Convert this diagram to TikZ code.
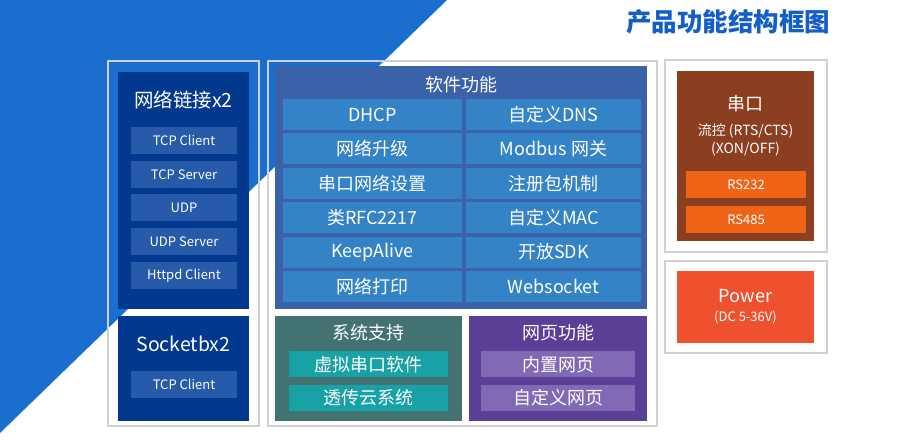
\documentclass[tikz,border=0pt]{standalone}
\usepackage{fontspec}
\setmainfont{Noto Sans CJK SC}
\definecolor{bgblue}{RGB}{26,111,206}
\definecolor{titleblue}{RGB}{20,94,200}
\definecolor{framegray}{RGB}{208,208,210}
\definecolor{netdark}{RGB}{3,56,143}
\definecolor{netitem}{RGB}{40,90,170}
\definecolor{softbg}{RGB}{59,98,169}
\definecolor{softcell}{RGB}{52,131,199}
\definecolor{sysbg}{RGB}{67,114,114}
\definecolor{sysitem}{RGB}{24,162,166}
\definecolor{webbg}{RGB}{91,63,151}
\definecolor{webitem}{RGB}{128,106,181}
\definecolor{uartbg}{RGB}{139,62,32}
\definecolor{uartitem}{RGB}{240,100,24}
\definecolor{powerbg}{RGB}{239,80,46}
\tikzset{
  frame/.style={draw=framegray, line width=1.8pt, inner sep=0pt, outer sep=0pt},
  panel/.style={inner sep=0pt, outer sep=0pt},
  huge/.style={text=white, font=\fontsize{19.5}{21}\selectfont},
  big/.style={text=white, font=\fontsize{18}{20}\selectfont},
  small/.style={text=white, font=\fontsize{13}{15}\selectfont},
  mid/.style={text=white, font=\fontsize{14}{16}\selectfont},
}
\begin{document}
\begin{tikzpicture}[x=1pt,y=-1pt]
	\useasboundingbox (0,0) rectangle (900,446);
	\fill[bgblue] (0,0) -- (447,0) -- (0,433) -- cycle;
	\node[text=titleblue, font=\fontsize{25.5}{27}\selectfont\bfseries] (title) at (728,22) {产品功能结构框图};

	% left column
	\node[frame, minimum width=151, minimum height=365] (leftframe) at (183.5,243.5) {};
	\node[panel, fill=netdark, minimum width=131, minimum height=237] (net) at (183.5,190.5) {};
	\node[huge] (nettitle) at (183.5,100) {网络链接x2};
	\foreach \t [count=\i from 0] in {TCP Client,TCP Server,UDP,UDP Server,Httpd Client}
	{
		\node[panel, fill=netitem, small, minimum width=106, minimum height=27] (net\i) at (184,140.5+\i*33.75) {\t};
	}
	\node[panel, fill=netdark, minimum width=131, minimum height=105] (sock) at (183.5,368.5) {};
	\node[huge] (socktitle) at (183.5,344) {Socketbx2};
	\node[panel, fill=netitem, small, minimum width=106, minimum height=27] (sock0) at (184,384.5) {TCP Client};

	% middle column
	\node[frame, minimum width=389, minimum height=365] (midframe) at (462.5,243.5) {};
	\node[panel, fill=softbg, minimum width=372, minimum height=243] (soft) at (461,187.5) {};
	\node[big] (softtitle) at (461,85) {软件功能};
	\foreach \l/\r [count=\i from 0] in {DHCP/自定义DNS,网络升级/Modbus 网关,串口网络设置/注册包机制,类RFC2217/自定义MAC,KeepAlive/开放SDK,网络打印/Websocket}
	{
		\node[panel, fill=softcell, big, minimum width=179, minimum height=31] (softl\i) at (372.5,114.5+\i*34.4) {\l};
		\node[panel, fill=softcell, big, minimum width=175, minimum height=31] (softr\i) at (553.5,114.5+\i*34.4) {\r};
	}
	\node[panel, fill=sysbg, minimum width=187, minimum height=105] (sys) at (368.5,368.5) {};
	\node[big] (systitle) at (368.5,333) {系统支持};
	\node[panel, fill=sysitem, big, minimum width=159, minimum height=26] (sys0) at (368.5,364.5) {虚拟串口软件};
	\node[panel, fill=sysitem, big, minimum width=159, minimum height=26] (sys1) at (368.5,398) {透传云系统};
	\node[panel, fill=webbg, minimum width=178, minimum height=105] (web) at (558,368.5) {};
	\node[big] (webtitle) at (558,333) {网页功能};
	\node[panel, fill=webitem, big, minimum width=154, minimum height=26] (web0) at (558,364.5) {内置网页};
	\node[panel, fill=webitem, big, minimum width=154, minimum height=26] (web1) at (558,398) {自定义网页};

	% right column
	\node[frame, minimum width=162, minimum height=192] (uartframe) at (746,156) {};
	\node[panel, fill=uartbg, minimum width=137, minimum height=170] (uart) at (745.5,156) {};
	\node[big] (uarttitle) at (745.5,104) {串口};
	\node[mid] (flow1) at (745.5,131) {流控 (RTS/CTS)};
	\node[mid] (flow2) at (745.5,149) {(XON/OFF)};
	\node[panel, fill=uartitem, small, minimum width=120, minimum height=27] (rs232) at (746,184.5) {RS232};
	\node[panel, fill=uartitem, small, minimum width=120, minimum height=27] (rs485) at (746,219.5) {RS485};
	\node[frame, minimum width=162, minimum height=92] (powerframe) at (746,307) {};
	\node[panel, fill=powerbg, minimum width=137, minimum height=72] (power) at (745.5,307) {};
	\node[big] (powertitle) at (745.5,296) {Power};
	\node[small] (powerdc) at (745.5,317) {(DC 5-36V)};
\end{tikzpicture}
\end{document}
